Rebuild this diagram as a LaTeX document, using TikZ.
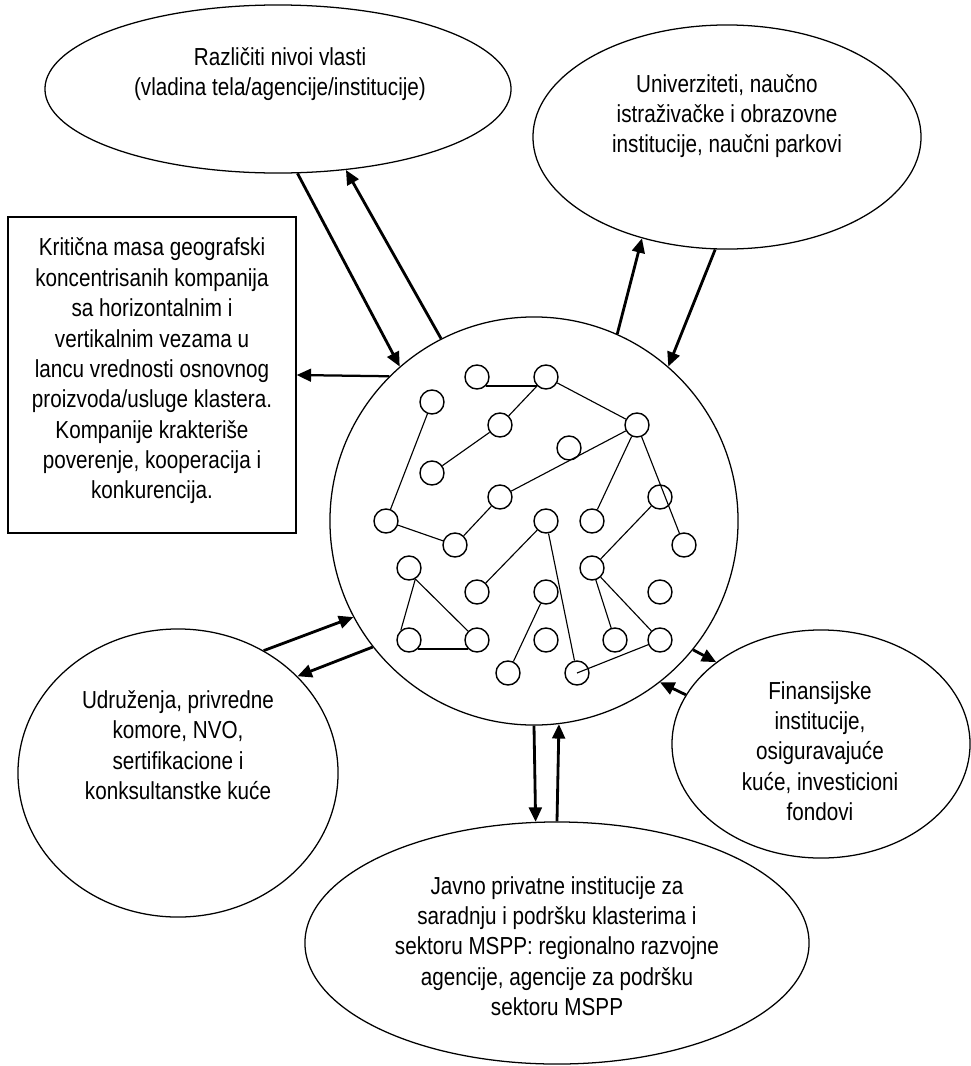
\documentclass[tikz,border=0pt]{standalone}
\usepackage{fontspec}
\setmainfont{Liberation Sans}[FakeStretch=0.84]
\usetikzlibrary{
    shapes,
    shapes.geometric,
    arrows.meta,
    positioning,
    calc,
}

\begin{document}
\begin{tikzpicture}[
    x=0.025cm, y=-0.025cm,
    >={Triangle[length=0.36cm, width=0.32cm]},
    grupa/.style={draw, ellipse, line width=0.9pt, inner sep=0pt},
    masa/.style={draw, rectangle, line width=0.9pt, inner sep=0pt},
    klaster/.style={draw, circle, line width=0.9pt, inner sep=0pt, minimum size=10.2cm},
    firma/.style={draw, circle, line width=1pt, inner sep=0pt, minimum size=0.6cm},
    opis/.style={align=center, font=\fontsize{17.5}{21.6}\selectfont},
    veza/.style={line width=0.8pt},
    tok/.style={->, line width=2pt},
]

\useasboundingbox (0,0) rectangle (971,1066);

% okolina klastera
\node[grupa, minimum width=11.65cm, minimum height=4.2cm] at (278,89) (vlast) {};
\node[grupa, minimum width=9.7cm, minimum height=5.6cm] at (727,137) (univ) {};
\node[masa, minimum width=7.2cm, minimum height=7.9cm] at (152,375) (mase) {};
\node[grupa, minimum width=8cm, minimum height=7.2cm] at (178,773) (udruz) {};
\node[grupa, minimum width=12.6cm, minimum height=6.05cm] at (557,943) (javno) {};
\node[grupa, minimum width=7.45cm, minimum height=5.7cm] at (821,744) (fin) {};
\node[klaster] at (534,521) (klaster) {};

\node[opis] at (280,74) (vlastTxt) {Različiti nivoi vlasti\\(vladina tela/agencije/institucije)};
\node[opis] at (727,116) (univTxt) {Univerziteti, naučno\\istraživačke i obrazovne\\institucije, naučni parkovi};
\node[opis] at (152,371) (maseTxt) {Kritična masa geografski\\koncentrisanih kompanija\\sa horizontalnim i\\vertikalnim vezama u\\lancu vrednosti osnovnog\\proizvoda/usluge klastera.\\Kompanije krakteriše\\poverenje, kooperacija i\\konkurencija.};
\node[opis] at (178,745) (udruzTxt) {Udruženja, privredne\\komore, NVO,\\sertifikacione i\\konksultanstke kuće};
\node[opis] at (557,946) (javnoTxt) {Javno privatne institucije za\\saradnju i podršku klasterima i\\sektoru MSPP: regionalno razvojne\\agencije, agencije za podršku\\sektoru MSPP};
\node[opis] at (820,751) (finTxt) {Finansijske\\institucije,\\osiguravajuće\\kuće, investicioni\\fondovi};

% firme u klasteru
\node[firma] at (477,377) (f1) {};
\node[firma] at (546,377) (f2) {};
\node[firma] at (432,402) (f3) {};
\node[firma] at (500,425) (f4) {};
\node[firma] at (637,425) (f5) {};
\node[firma] at (569,448) (f6) {};
\node[firma] at (432,473) (f7) {};
\node[firma] at (500,497) (f8) {};
\node[firma] at (660,497) (f9) {};
\node[firma] at (386,521) (f10) {};
\node[firma] at (546,521) (f11) {};
\node[firma] at (592,521) (f12) {};
\node[firma] at (455,545) (f13) {};
\node[firma] at (684,545) (f14) {};
\node[firma] at (409,568) (f15) {};
\node[firma] at (592,568) (f16) {};
\node[firma] at (477,592) (f17) {};
\node[firma] at (546,592) (f18) {};
\node[firma] at (660,592) (f19) {};
\node[firma] at (409,640) (f20) {};
\node[firma] at (477,640) (f21) {};
\node[firma] at (546,640) (f22) {};
\node[firma] at (615,640) (f23) {};
\node[firma] at (660,640) (f24) {};
\node[firma] at (508,673) (f25) {};
\node[firma] at (577,673) (f26) {};

\draw[veza] (f1.south east) -- (f2.south west);
\draw[veza] (f2.south west) -- (f4);
\draw[veza] (f2) -- (f5);
\draw[veza] (f4) -- (f7);
\draw[veza] (f3) -- (f10);
\draw[veza] (f5) -- (f8);
\draw[veza] (f5) -- (f12);
\draw[veza] (f5) -- (f14);
\draw[veza] (f8) -- (f13);
\draw[veza] (f10) -- (f13);
\draw[veza] (f11) -- (f17);
\draw[veza] (f11) -- (f26);
\draw[veza] (f9) -- (f16);
\draw[veza] (f15.-60) -- (f20.130);
\draw[veza] (f15.-60) -- (f21);
\draw[veza] (f20.south east) -- (f21.south west);
\draw[veza] (f18) -- (f25);
\draw[veza] (f16) -- (f23);
\draw[veza] (f16) -- (f24);
\draw[veza] (f24) -- (f26.center);

% tokovi
\draw[tok] (vlast.-77) -- (klaster.131);
\draw[tok] (klaster.117) -- (vlast.-50);
\draw[tok, line width=1.6pt] (klaster.135) -- (mase.east);
\draw[tok] (klaster.66) -- (univ.-130);
\draw[tok] (univ.-96) -- (klaster.49);
\draw[tok] (udruz.55) -- (klaster.208);
\draw[tok] (klaster.218) -- (udruz.39);
\draw[tok] (klaster.-90) -- (javno.100);
\draw[tok] (javno.north) -- (klaster.-83.5);
\draw[tok] (klaster.-39) -- (fin.142);
\draw[tok] (fin.160) -- (klaster.-52);

\end{tikzpicture}
\end{document}
